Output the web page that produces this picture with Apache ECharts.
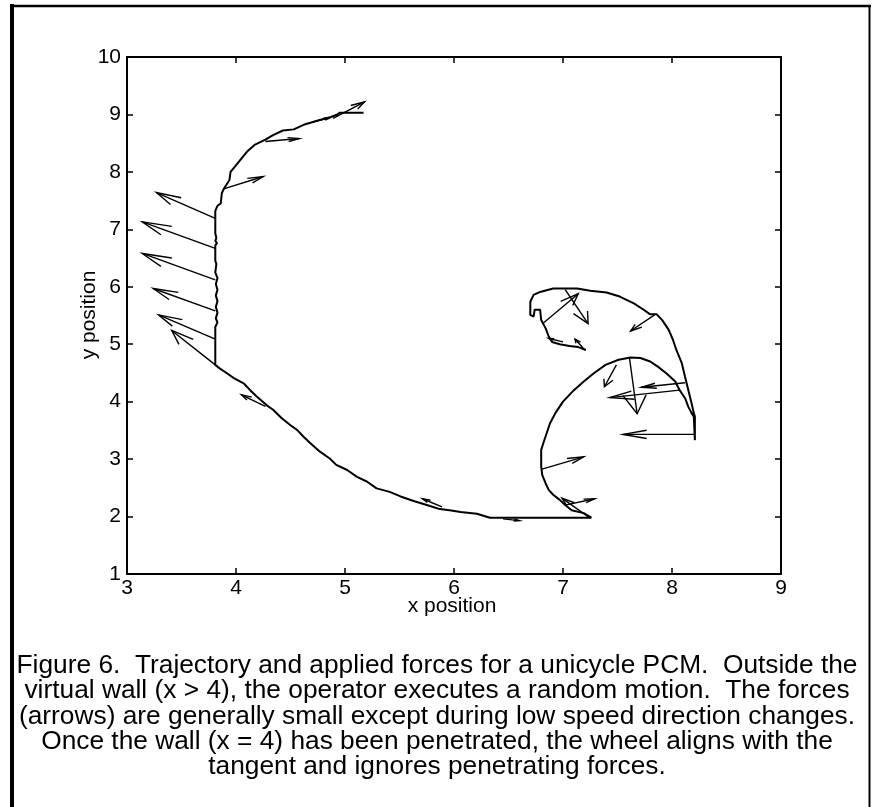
<!DOCTYPE html>
<html><head><meta charset="utf-8">
<script src="https://cdn.jsdelivr.net/npm/echarts@6/dist/echarts.min.js"></script>
<style>html,body{margin:0;padding:0;background:#fff;}#c{width:872px;height:807px;}</style>
</head><body><div id="c"></div>
<script>
// ---- data ----
const xTicks = [3, 4, 5, 6, 7, 8, 9];
const yTicks = [1, 2, 3, 4, 5, 6, 7, 8, 9, 10];
const xLabel = 'x position';
const yLabel = 'y position';

// trajectory of the unicycle PCM, [x, y]
const trajectory = [
  [5.17, 9.03], [4.95, 9.03], [4.93, 9.00], [4.86, 8.95], [4.76, 8.90], [4.62, 8.82], [4.53, 8.74],
  [4.43, 8.72], [4.34, 8.64], [4.27, 8.56], [4.17, 8.47], [4.10, 8.35], [4.04, 8.21], [3.99, 8.09],
  [3.95, 8.00], [3.94, 7.86], [3.89, 7.71], [3.87, 7.63], [3.86, 7.45], [3.83, 7.41], [3.81, 7.32],
  [3.81, 6.93], [3.82, 6.85], [3.81, 6.80], [3.825, 6.76], [3.81, 6.72], [3.81, 6.45], [3.82, 6.40],
  [3.81, 6.25], [3.83, 6.15], [3.815, 6.05], [3.83, 5.95], [3.815, 5.85], [3.83, 5.75], [3.815, 5.65],
  [3.83, 5.55], [3.815, 5.45], [3.83, 5.38], [3.81, 5.30], [3.81, 4.64],
  [3.85, 4.58], [3.92, 4.49], [3.98, 4.41], [4.07, 4.32], [4.13, 4.20], [4.19, 4.09], [4.28, 3.94],
  [4.34, 3.86], [4.42, 3.71], [4.50, 3.59], [4.56, 3.51], [4.62, 3.39], [4.68, 3.28], [4.77, 3.13],
  [4.86, 3.01], [4.92, 2.90], [5.02, 2.81], [5.11, 2.69], [5.20, 2.61], [5.29, 2.49], [5.41, 2.43],
  [5.51, 2.35], [5.63, 2.27], [5.75, 2.20], [5.87, 2.13], [5.96, 2.11], [6.06, 2.08], [6.21, 2.05],
  [6.33, 1.98], [7.26, 1.98],
  [7.19, 2.06], [7.08, 2.11], [7.02, 2.20], [6.97, 2.29], [6.91, 2.38], [6.87, 2.46], [6.84, 2.58],
  [6.81, 2.72], [6.80, 2.87], [6.80, 3.16], [6.82, 3.28], [6.85, 3.45], [6.88, 3.62], [6.93, 3.80],
  [7.00, 4.00], [7.10, 4.20], [7.19, 4.35], [7.28, 4.49], [7.39, 4.64], [7.51, 4.73], [7.62, 4.77],
  [7.71, 4.76], [7.80, 4.70], [7.87, 4.61], [7.95, 4.49], [8.03, 4.35], [8.07, 4.20], [8.12, 4.06],
  [8.15, 3.91], [8.18, 3.80], [8.20, 3.74], [8.21, 3.33],
  [8.21, 3.74], [8.20, 3.80], [8.18, 3.97], [8.15, 4.20], [8.12, 4.43], [8.09, 4.67], [8.04, 4.90],
  [8.01, 5.07], [7.97, 5.25], [7.91, 5.42], [7.86, 5.52], [7.80, 5.52], [7.74, 5.60], [7.65, 5.71],
  [7.52, 5.83], [7.40, 5.90], [7.25, 5.93], [7.13, 5.97], [6.91, 5.97], [6.79, 5.91], [6.73, 5.86],
  [6.70, 5.74], [6.70, 5.51], [6.73, 5.48], [6.74, 5.60], [6.79, 5.60], [6.80, 5.42], [6.84, 5.28],
  [6.87, 5.13], [6.90, 5.04], [6.97, 5.00], [7.06, 4.97], [7.14, 4.95], [7.21, 4.90]
];

// applied force arrows: [baseX, baseY, tipX, tipY]
const forceArrows = [
  [3.88, 7.70, 4.25, 7.92],
  [4.27, 8.53, 4.58, 8.58],
  [4.89, 8.93, 5.18, 9.22],
  [4.71, 8.87, 4.86, 8.94],
  [3.81, 7.19, 3.27, 7.64],
  [3.81, 6.67, 3.14, 7.13],
  [3.81, 6.12, 3.14, 6.58],
  [3.81, 5.58, 3.24, 5.97],
  [3.81, 5.09, 3.29, 5.51],
  [3.81, 4.64, 3.41, 5.24],
  [4.27, 3.92, 4.05, 4.12],
  [5.89, 2.17, 5.71, 2.31],
  [6.45, 1.96, 6.60, 1.93],
  [7.02, 2.20, 7.29, 2.31],
  [7.23, 2.00, 6.99, 2.32],
  [6.80, 2.82, 7.19, 3.04],
  [8.21, 3.43, 7.55, 3.43],
  [8.12, 4.33, 7.72, 4.25],
  [8.07, 4.20, 7.43, 4.07],
  [7.61, 4.76, 7.68, 3.79],
  [7.49, 4.64, 7.38, 4.26],
  [7.84, 5.51, 7.62, 5.23],
  [6.82, 5.37, 7.14, 5.88],
  [7.02, 5.95, 7.23, 5.36],
  [7.00, 5.04, 6.87, 5.10],
  [7.20, 4.90, 7.11, 5.09]
];

const captionLines = [
  'Figure 6.  Trajectory and applied forces for a unicycle PCM.  Outside the',
  'virtual wall (x > 4), the operator executes a random motion.  The forces',
  '(arrows) are generally small except during low speed direction changes.',
  'Once the wall (x = 4) has been penetrated, the wheel aligns with the',
  'tangent and ignores penetrating forces.'
];

// ---- chart ----
const FONT = '"Liberation Sans", Arial, Helvetica, sans-serif';
const chart = echarts.init(document.getElementById('c'), null, {renderer: 'canvas'});

function axisCommon(min, max, showLabel, margin) {
  return {
    type: 'value', min: min, max: max, interval: 1,
    axisLine: {show: true, onZero: false, lineStyle: {color: '#000', width: 2}},
    axisTick: {show: true, inside: true, length: 6, lineStyle: {color: '#000', width: 1.5}},
    axisLabel: {show: showLabel, color: '#000', fontSize: 21, fontFamily: FONT, margin: margin,
                showMinLabel: true, showMaxLabel: true},
    splitLine: {show: false}
  };
}

const HEAD_ALPHA = 0.33, HEAD_BETA = 0.33;

const option = {
  animation: false,
  backgroundColor: '#fff',
  grid: {left: 127, top: 57, right: 91, bottom: 233, outerBoundsMode: 'none', containLabel: false},
  xAxis: [
    Object.assign(axisCommon(xTicks[0], xTicks[xTicks.length - 1], true, 4), {position: 'bottom'}),
    Object.assign(axisCommon(xTicks[0], xTicks[xTicks.length - 1], false, 4), {position: 'top'})
  ],
  yAxis: [
    Object.assign(axisCommon(yTicks[0], yTicks[yTicks.length - 1], true, 6), {position: 'left'}),
    Object.assign(axisCommon(yTicks[0], yTicks[yTicks.length - 1], false, 6), {position: 'right'})
  ],
  series: [
    {
      type: 'line', data: trajectory, xAxisIndex: 0, yAxisIndex: 0,
      showSymbol: false, symbol: 'none', smooth: false, clip: true,
      lineStyle: {color: '#000', width: 2}, z: 3
    },
    {
      type: 'custom', xAxisIndex: 0, yAxisIndex: 0, data: forceArrows,
      encode: {x: [0, 2], y: [1, 3]}, z: 4,
      renderItem: function (params, api) {
        const bx = api.value(0), by = api.value(1), tx = api.value(2), ty = api.value(3);
        const u = tx - bx, v = ty - by;
        const h1 = [tx - HEAD_ALPHA * (u + HEAD_BETA * v), ty - HEAD_ALPHA * (v - HEAD_BETA * u)];
        const h2 = [tx - HEAD_ALPHA * (u - HEAD_BETA * v), ty - HEAD_ALPHA * (v + HEAD_BETA * u)];
        const P = api.coord([bx, by]), T = api.coord([tx, ty]);
        const H1 = api.coord(h1), H2 = api.coord(h2);
        return {
          type: 'group',
          children: [
            {type: 'polyline', shape: {points: [P, T]}, style: {stroke: '#000', fill: null, lineWidth: 1.4}},
            {type: 'polyline', shape: {points: [H1, T, H2]}, style: {stroke: '#000', fill: null, lineWidth: 1.4}}
          ]
        };
      }
    }
  ],
  graphic: {
    elements: [
      {type: 'line', shape: {x1: 12, y1: 4, x2: 12, y2: 807}, style: {stroke: '#000', lineWidth: 4}},
      {type: 'line', shape: {x1: 10, y1: 6, x2: 871, y2: 6}, style: {stroke: '#000', lineWidth: 2.5}},
      {type: 'line', shape: {x1: 869.5, y1: 5, x2: 869.5, y2: 807}, style: {stroke: '#000', lineWidth: 2}},
      {type: 'text', x: 452, y: 606,
       style: {text: xLabel, font: '21px ' + FONT, fill: '#000', align: 'center', verticalAlign: 'middle',
               textAlign: 'center', textVerticalAlign: 'middle'}},
      {type: 'text', x: 89, y: 315, rotation: Math.PI / 2,
       style: {text: yLabel, font: '21px ' + FONT, fill: '#000', align: 'center', verticalAlign: 'middle',
               textAlign: 'center', textVerticalAlign: 'middle'}}
    ].concat(captionLines.map(function (t, i) {
      return {type: 'text', x: 437, y: 666 + i * 25.2,
              style: {text: t, font: '26.3px ' + FONT, fill: '#000', align: 'center', verticalAlign: 'middle',
                      textAlign: 'center', textVerticalAlign: 'middle'}};
    }))
  }
};
chart.setOption(option);
</script>
</body></html>
